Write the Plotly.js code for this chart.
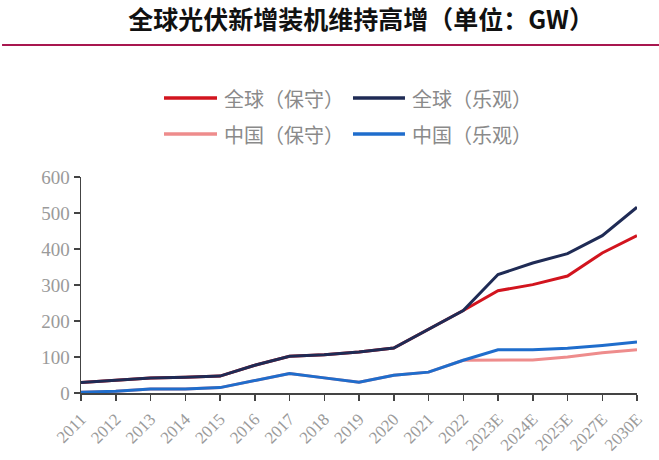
<!DOCTYPE html>
<html>
<head>
<meta charset="utf-8">
<script src="https://cdn.plot.ly/plotly-3.0.1.min.js"></script>
<style>html,body{margin:0;padding:0;background:#fff;}#chart{width:659px;height:460px;}</style>
</head>
<body>
<div id="chart"></div>
<script>
const years = ["2011","2012","2013","2014","2015","2016","2017","2018","2019","2020","2021","2022","2023E","2024E","2025E","2027E","2030E"];
const globalCons = [29, 35, 42, 44, 47, 77, 102, 106, 114, 125, 176, 229, 284, 301, 325, 389, 437];
const globalOpt  = [29, 35, 42, 44, 47, 77, 102, 106, 114, 125, 176, 229, 329, 361, 387, 437, 516];
const chinaCons  = [2, 5, 11, 11, 15, 34, 54, 42, 30, 49, 58, 91, 92, 92, 100, 112, 120];
const chinaOpt   = [2, 5, 11, 11, 15, 34, 54, 42, 30, 49, 58, 91, 120, 120, 124, 132, 142];
const names = ["全球（保守）", "全球（乐观）", "中国（保守）", "中国（乐观）"];
const colors = ["#d2141e", "#1f2b55", "#ee8c8c", "#1f6dcc"];

const xs = years.map((_, i) => i);
const series = [globalCons, globalOpt, chinaCons, chinaOpt];
const traces = series.map((s, i) => ({
  x: xs, y: s, type: "scatter", mode: "lines", name: names[i],
  line: {color: colors[i], width: 3},
  hoverinfo: "skip", showlegend: false
}));

// legend drawn as shapes + text (2 x 2 grid)
const legX0 = [0.1493, 0.4892], legX1 = [0.2446, 0.5827], legTx = [0.2536, 0.5917];
const legY = [1.3657, 1.199];
const legShapes = [], legAnn = [];
names.forEach((n, i) => {
  const c = i % 2, r = Math.floor(i / 2);
  legShapes.push({type: "line", xref: "paper", yref: "paper", x0: legX0[c], x1: legX1[c],
    y0: legY[r], y1: legY[r], line: {color: colors[i], width: 3.5}});
  legAnn.push({xref: "paper", yref: "paper", x: legTx[c], y: legY[r], xanchor: "left",
    yanchor: "middle", showarrow: false, text: n,
    font: {family: "Noto Sans CJK SC, sans-serif", size: 20, color: "#8a8a8a"}});
});

const yFont = {family: "Liberation Serif, serif", size: 19, color: "#9a9a9a"};
const xFont = {family: "Liberation Serif, serif", size: 17, color: "#9a9a9a"};

const layout = {
  width: 659, height: 460,
  margin: {l: 81, r: 22, t: 177, b: 67},
  paper_bgcolor: "#fff", plot_bgcolor: "#fff",
  showlegend: false,
  title: {text: "<b>全球光伏新增装机维持高增（单位：GW）</b>",
    font: {family: "Noto Sans CJK SC, sans-serif", size: 25, color: "#111"},
    x: 0.548, xanchor: "center", y: 0.956, yanchor: "middle"},
  xaxis: {range: [0, 16], tickvals: xs, ticktext: years, tickangle: -45,
    showgrid: false, zeroline: false, showline: true, linecolor: "#444", linewidth: 1.5,
    ticks: "outside", ticklen: 6, tickcolor: "#444", tickwidth: 1.5, tickfont: xFont,
    ticklabelstandoff: 2, fixedrange: true, automargin: false},
  yaxis: {range: [0, 600], dtick: 100, showgrid: false, zeroline: false, showline: true,
    linecolor: "#444", linewidth: 1.5, ticks: "outside", ticklen: 6, tickcolor: "#444",
    tickwidth: 1.5, tickfont: yFont, fixedrange: true},
  annotations: legAnn,
  shapes: [{type: "line", xref: "paper", yref: "paper", x0: -0.142, x1: 1.04,
    y0: 1.611, y1: 1.611, line: {color: "#a8174f", width: 2}}].concat(legShapes)
};

Plotly.newPlot("chart", traces, layout, {displayModeBar: false, staticPlot: true});
</script>
</body>
</html>
